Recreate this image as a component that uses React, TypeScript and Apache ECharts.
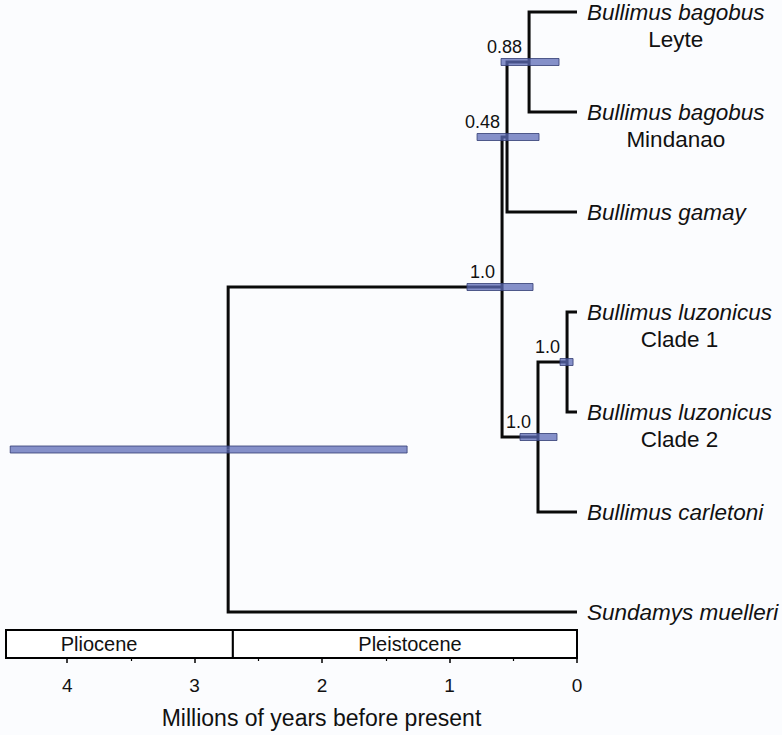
import React, { useEffect, useRef } from "react";
import * as echarts from "echarts";

// Tips (top to bottom)
const tipNames = [
  "Bullimus bagobus",
  "Bullimus bagobus",
  "Bullimus gamay",
  "Bullimus luzonicus",
  "Bullimus luzonicus",
  "Bullimus carletoni",
  "Sundamys muelleri",
];
const tipSubLabels = ["Leyte", "Mindanao", "", "Clade 1", "Clade 2", "", ""];

// Internal nodes: ages (Ma), 95% HPD bounds, posterior support, children
const nodeAges = [0.376, 0.549, 0.588, 0.306, 0.078, 2.737];
const nodeHpdOld = [0.596, 0.784, 0.863, 0.447, 0.133, 4.447];
const nodeHpdYoung = [0.141, 0.298, 0.345, 0.157, 0.031, 1.333];
const nodeSupport = ["0.88", "0.48", "1.0", "1.0", "1.0", ""];
const nodeChildren = [
  ["t0", "t1"],
  ["n0", "t2"],
  ["n1", "n3"],
  ["n4", "t5"],
  ["t3", "t4"],
  ["n2", "t6"],
];

// Geological epochs
const epochNames = ["Pliocene", "Pleistocene"];
const epochOld = [4.48, 2.7];
const epochYoung = [2.7, 0];
const epochLabelAge = [3.75, 1.31];

// Axis
const X_MAX = 4.48;
const xTickValues = [0, 1, 2, 3, 4];

const FONT = '"Liberation Sans", Arial, Helvetica, sans-serif';

function nodeRef(id: string) {
  return { kind: id[0], idx: parseInt(id.slice(1), 10) };
}

const nodeY: number[] = [];
function yOf(id: string): number {
  const r = nodeRef(id);
  if (r.kind === "t") return r.idx;
  if (nodeY[r.idx] !== undefined) return nodeY[r.idx];
  const ch = nodeChildren[r.idx];
  const y = (yOf(ch[0]) + yOf(ch[1])) / 2;
  nodeY[r.idx] = y;
  return y;
}
function ageOf(id: string): number {
  const r = nodeRef(id);
  return r.kind === "t" ? 0 : nodeAges[r.idx];
}
nodeChildren.forEach((_, i) => yOf("n" + i));

export default function App() {
  const ref = useRef<HTMLDivElement>(null);
  useEffect(() => {
    const chart = echarts.init(ref.current!, null, { renderer: "svg" });

    const edges: number[][] = [];
    nodeChildren.forEach((ch, i) => {
      ch.forEach((c) => {
        edges.push([nodeAges[i], nodeY[i], ageOf(c), yOf(c)]);
      });
    });
    const hpd = nodeAges.map((a, i) => [nodeHpdOld[i], nodeHpdYoung[i], nodeY[i], a]);
    const supports = nodeAges.map((a, i) => [a, nodeY[i]]);
    const tips = tipNames.map((_, i) => [0, i]);
    const epochs = epochNames.map((_, i) => [epochOld[i], epochYoung[i], epochLabelAge[i]]);

    const option: any = {
      animation: false,
      backgroundColor: "#FBFCFE",
      grid: { left: 6, right: 205, top: 12, bottom: 77, containLabel: false },
      xAxis: {
        type: "value",
        position: "bottom",
        inverse: true,
        min: 0,
        max: X_MAX,
        interval: 1,
        splitLine: { show: false },
        axisLine: { show: true, onZero: false, lineStyle: { color: "#000", width: 2 } },
        axisTick: { show: true, length: 5, lineStyle: { color: "#000", width: 1.5 }, customValues: xTickValues },
        minorTick: { show: true, splitNumber: 2, length: 3, lineStyle: { color: "#000", width: 1.2 } },
        axisLabel: {
          color: "#111",
          fontSize: 19,
          fontFamily: FONT,
          margin: 18,
          customValues: xTickValues,
          formatter: (v: number) => (Number.isInteger(v) ? String(v) : ""),
        },
        name: "Millions of years before present",
        nameLocation: "middle",
        nameGap: 48,
        nameTextStyle: { color: "#111", fontSize: 23, fontFamily: FONT, padding: [0, 0, 0, 60] },
      },
      yAxis: {
        type: "value",
        inverse: true,
        min: 0,
        max: 6.46,
        show: false,
      },
      series: [
        {
          type: "custom",
          name: "epochs",
          z: 1,
          data: epochs,
          clip: false,
          renderItem: (params: any, api: any) => {
            const cs = params.coordSys;
            const bottom = cs.y + cs.height;
            const x1 = api.coord([api.value(0), 0])[0];
            const x2 = api.coord([api.value(1), 0])[0];
            const lx = api.coord([api.value(2), 0])[0];
            return {
              type: "group",
              children: [
                {
                  type: "rect",
                  shape: { x: x1, y: bottom - 28, width: x2 - x1, height: 28 },
                  style: { fill: "#fff", stroke: "#000", lineWidth: 2 },
                },
                {
                  type: "text",
                  style: {
                    text: epochNames[params.dataIndex],
                    x: lx,
                    y: bottom - 14,
                    align: "center",
                    verticalAlign: "middle",
                    fontSize: 20,
                    fontFamily: FONT,
                    fill: "#111",
                  },
                },
              ],
            };
          },
        },
        {
          type: "custom",
          name: "branches",
          z: 2,
          data: edges,
          clip: false,
          renderItem: (params: any, api: any) => {
            const p0 = api.coord([api.value(0), api.value(1)]);
            const p1 = api.coord([api.value(0), api.value(3)]);
            const p2 = api.coord([api.value(2), api.value(3)]);
            return {
              type: "polyline",
              shape: { points: [p0, p1, p2] },
              style: { stroke: "#0a0a0a", lineWidth: 3, fill: null, lineJoin: "miter" },
            };
          },
        },
        {
          type: "custom",
          name: "hpd",
          z: 3,
          data: hpd,
          clip: false,
          renderItem: (params: any, api: any) => {
            const a = api.coord([api.value(0), api.value(2)]);
            const b = api.coord([api.value(1), api.value(2)]);
            return {
              type: "rect",
              shape: { x: a[0], y: a[1] - 3.5, width: b[0] - a[0], height: 7 },
              style: { fill: "rgba(92,106,182,0.74)", stroke: "rgba(50,60,115,0.8)", lineWidth: 1 },
            };
          },
        },
        {
          type: "custom",
          name: "support",
          z: 4,
          data: supports,
          clip: false,
          renderItem: (params: any, api: any) => {
            const p = api.coord([api.value(0), api.value(1)]);
            return {
              type: "text",
              style: {
                text: nodeSupport[params.dataIndex],
                x: p[0] - 7,
                y: p[1] - 6,
                align: "right",
                verticalAlign: "bottom",
                fontSize: 18,
                fontFamily: FONT,
                fill: "#111",
              },
            };
          },
        },
        {
          type: "custom",
          name: "tips",
          z: 4,
          data: tips,
          clip: false,
          renderItem: (params: any, api: any) => {
            const p = api.coord([api.value(0), api.value(1)]);
            const i = params.dataIndex;
            const sub = tipSubLabels[i];
            const text = sub ? `{s|${tipNames[i]}}\n{n|${sub}}` : `{s|${tipNames[i]}}`;
            return {
              type: "text",
              style: {
                text,
                x: p[0] + 10,
                y: p[1] - 13.5,
                align: "left",
                verticalAlign: "top",
                fill: "#111",
                rich: {
                  s: { fontStyle: "italic", fontSize: 22.5, fontFamily: FONT, lineHeight: 27, align: "left", fill: "#111" },
                  n: { fontSize: 22.5, fontFamily: FONT, lineHeight: 27, align: "center", fill: "#111" },
                },
              },
            };
          },
        },
      ],
    };
    chart.setOption(option);
    return () => chart.dispose();
  }, []);
  return <div ref={ref} style={{ position: "fixed", left: 0, top: 0, width: 782, height: 735 }} />;
}
